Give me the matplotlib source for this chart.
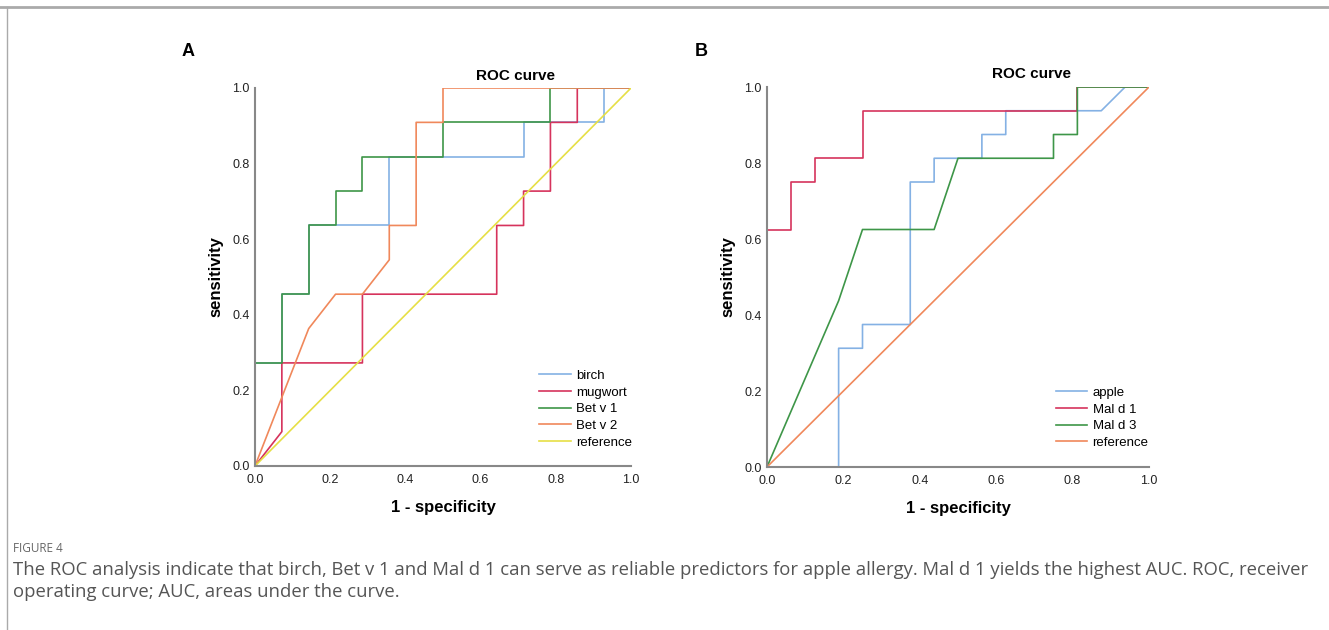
import matplotlib.pyplot as plt
from matplotlib.lines import Line2D

# panel A: 11 positives / 14 negatives
birch_x = [0, 0, 1/14, 1/14, 2/14, 2/14, 5/14, 5/14, 10/14, 10/14, 13/14, 13/14, 1]
birch_y = [0, 3/11, 3/11, 5/11, 5/11, 7/11, 7/11, 9/11, 9/11, 10/11, 10/11, 1, 1]
mugwort_x = [0, 1/14, 1/14, 4/14, 4/14, 9/14, 9/14, 10/14, 10/14, 11/14, 11/14, 12/14, 12/14, 1]
mugwort_y = [0, 1/11, 3/11, 3/11, 5/11, 5/11, 7/11, 7/11, 8/11, 8/11, 10/11, 10/11, 1, 1]
betv1_x = [0, 0, 1/14, 1/14, 2/14, 2/14, 3/14, 3/14, 4/14, 4/14, 7/14, 7/14, 11/14, 11/14, 1]
betv1_y = [0, 3/11, 3/11, 5/11, 5/11, 7/11, 7/11, 8/11, 8/11, 9/11, 9/11, 10/11, 10/11, 1, 1]
betv2_x = [0, 2/14, 3/14, 4/14, 5/14, 5/14, 6/14, 6/14, 7/14, 7/14, 1]
betv2_y = [0, 4/11, 5/11, 5/11, 6/11, 7/11, 7/11, 10/11, 10/11, 1, 1]

# panel B: 16 positives / 16 negatives
apple_x = [0, 3/16, 3/16, 4/16, 4/16, 6/16, 6/16, 7/16, 7/16, 9/16, 9/16, 10/16, 10/16, 14/16, 15/16, 1]
apple_y = [0, 0, 5/16, 5/16, 6/16, 6/16, 12/16, 12/16, 13/16, 13/16, 14/16, 14/16, 15/16, 15/16, 1, 1]
mald1_x = [0, 0, 1/16, 1/16, 2/16, 2/16, 4/16, 4/16, 13/16, 13/16, 1]
mald1_y = [0, 10/16, 10/16, 12/16, 12/16, 13/16, 13/16, 15/16, 15/16, 1, 1]
mald3_x = [0, 3/16, 4/16, 7/16, 8/16, 12/16, 12/16, 13/16, 13/16, 1]
mald3_y = [0, 7/16, 10/16, 10/16, 13/16, 13/16, 14/16, 14/16, 1, 1]

ticks = [0.0, 0.2, 0.4, 0.6, 0.8, 1.0]

BLUE = "#84B1E4"
RED = "#D6335C"
GREEN = "#3E9648"
ORANGE = "#F0885B"
YELLOW = "#E6DF45"

plt.rcParams["font.family"] = ["Liberation Sans", "DejaVu Sans"]

fig = plt.figure(figsize=(13.29, 6.3), dpi=100)

# frame lines of the figure box
fig.add_artist(Line2D([0, 1], [1 - 7 / 630] * 2, color="#aaaaaa", lw=2))
fig.add_artist(Line2D([7 / 1329] * 2, [0, 1 - 7 / 630], color="#aaaaaa", lw=1))


def setup(ax):
    ax.set_xlim(0, 1)
    ax.set_ylim(0, 1)
    ax.set_xticks(ticks)
    ax.set_yticks(ticks)
    ax.set_xticklabels([f"{t:.1f}" for t in ticks])
    ax.set_yticklabels([f"{t:.1f}" for t in ticks])
    ax.tick_params(length=0, labelsize=9, colors="#222222")
    ax.tick_params(axis="x", pad=6)
    ax.tick_params(axis="y", pad=4)
    for s in ["top", "right"]:
        ax.spines[s].set_visible(False)
    for s in ["left", "bottom"]:
        ax.spines[s].set_color("#888888")
        ax.spines[s].set_linewidth(1.5)
    ax.set_xlabel("1 - specificity", fontsize=12, fontweight="bold", labelpad=10)
    ax.set_ylabel("sensitivity", fontsize=12, fontweight="bold", labelpad=6)


lw = 1.2
legend_kw = dict(loc="lower right", frameon=False, fontsize=9.5,
                 handlelength=2.4, handletextpad=0.4, labelspacing=0.34)

axA = fig.add_axes([255 / 1329, 1 - 466 / 630, 376 / 1329, 378 / 630])
axA.plot(birch_x, birch_y, color=BLUE, lw=lw, label="birch")
axA.plot(mugwort_x, mugwort_y, color=RED, lw=lw, label="mugwort")
axA.plot(betv1_x, betv1_y, color=GREEN, lw=lw, label="Bet v 1")
axA.plot(betv2_x, betv2_y, color=ORANGE, lw=lw, label="Bet v 2")
axA.plot([0, 1], [0, 1], color=YELLOW, lw=lw, label="reference")
setup(axA)
axA.legend(bbox_to_anchor=(1.035, 0.014), **legend_kw)

axB = fig.add_axes([767 / 1329, 1 - 467 / 630, 382 / 1329, 380 / 630])
axB.plot(apple_x, apple_y, color=BLUE, lw=lw, label="apple")
axB.plot(mald1_x, mald1_y, color=RED, lw=lw, label="Mal d 1")
axB.plot(mald3_x, mald3_y, color=GREEN, lw=lw, label="Mal d 3")
axB.plot([0, 1], [0, 1], color=ORANGE, lw=lw, label="reference")
setup(axB)
axB.legend(bbox_to_anchor=(1.03, 0.016), **legend_kw)

fig.text(515 / 1329, 1 - 76 / 630, "ROC curve", fontsize=11, fontweight="bold", ha="center", va="center")
fig.text(1031 / 1329, 1 - 74 / 630, "ROC curve", fontsize=11, fontweight="bold", ha="center", va="center")
fig.text(188 / 1329, 1 - 52 / 630, "A", fontsize=13, fontweight="bold", ha="center", va="center")
fig.text(701 / 1329, 1 - 52 / 630, "B", fontsize=13, fontweight="bold", ha="center", va="center")

fig.text(13 / 1329, 1 - 548 / 630, "FIGURE 4", fontsize=8.5, color="#666666", va="center",
         family=["Open Sans", "DejaVu Sans"])
caption = ("The ROC analysis indicate that birch, Bet v 1 and Mal d 1 can serve as reliable predictors for apple allergy. "
           "Mal d 1 yields the highest AUC. ROC, receiver\noperating curve; AUC, areas under the curve.")
fig.text(13 / 1329, 1 - 561 / 630, caption, fontsize=13.3, color="#555555", va="top",
         linespacing=1.27, family=["Open Sans", "DejaVu Sans"])

fig.savefig("out.png", dpi=100)
